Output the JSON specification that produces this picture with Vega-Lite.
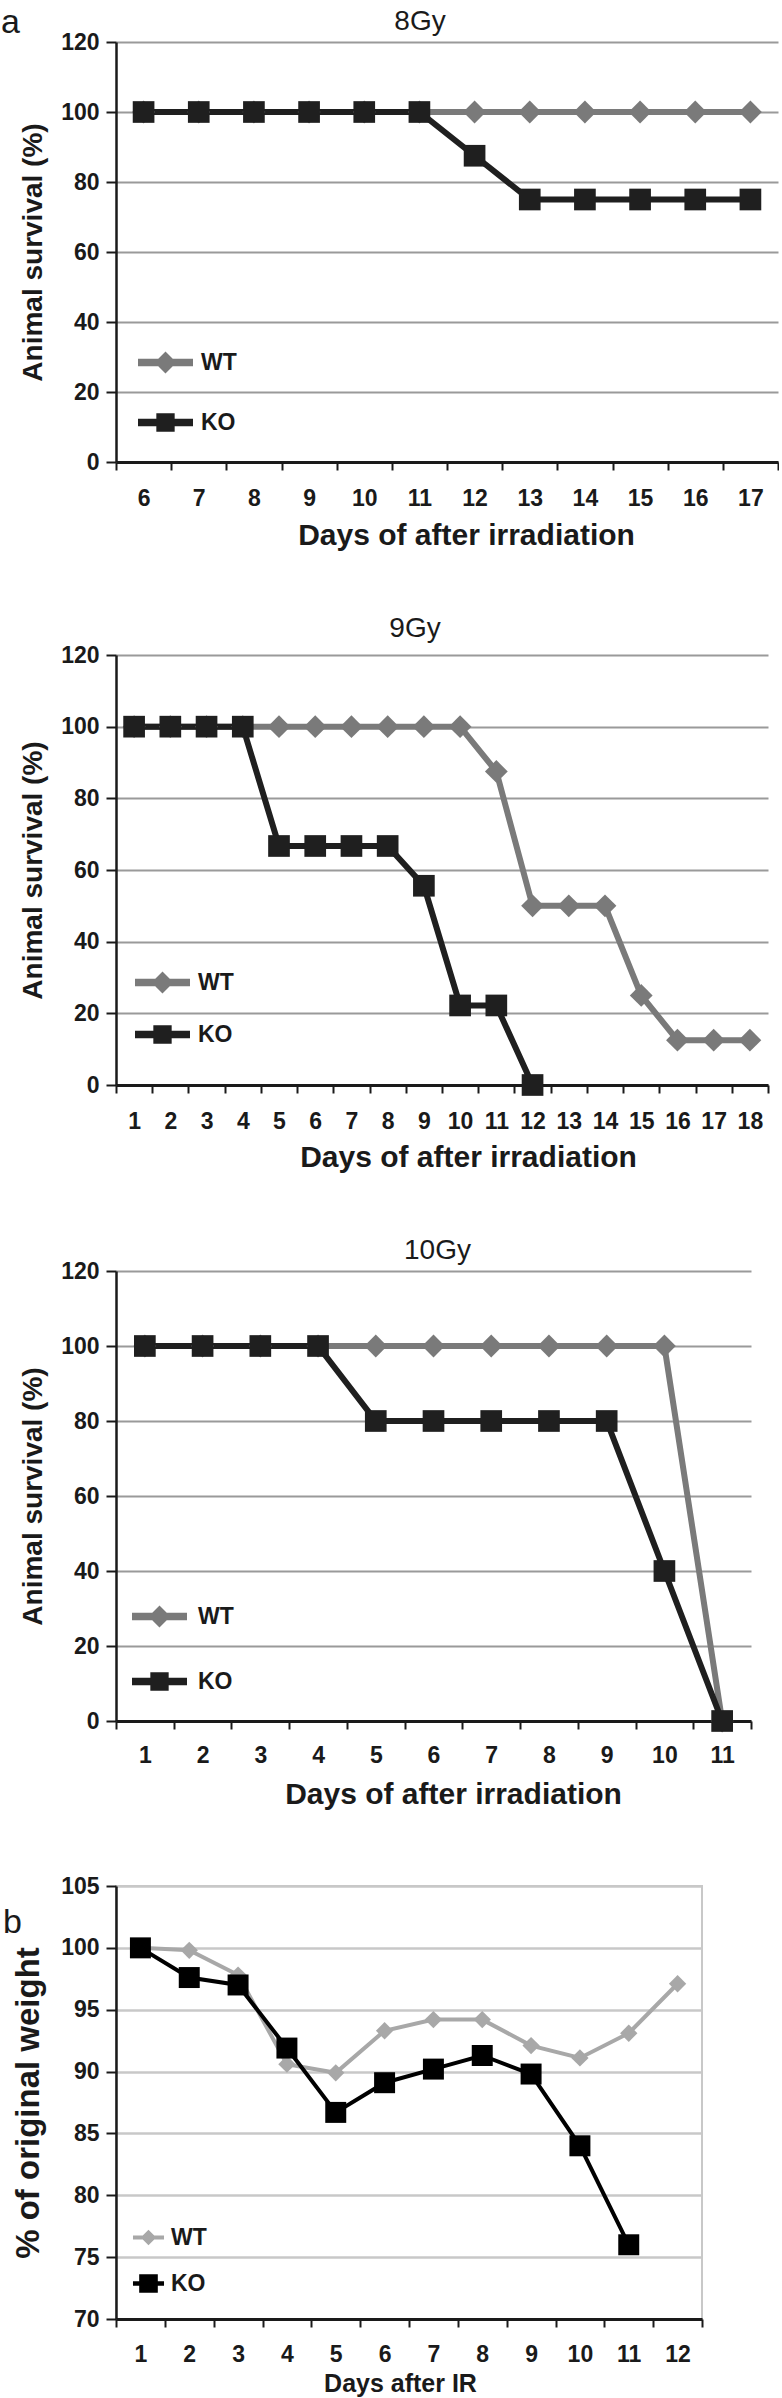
{
  "$schema": "https://vega.github.io/schema/vega-lite/v6.json",
  "background": "white",
  "padding": {"left": 1, "top": 6, "right": 0, "bottom": 0},
  "title": {"text": "a", "anchor": "start", "frame": "group", "fontSize": 34, "fontWeight": "normal", "offset": -32, "dx": -115},
  "spacing": 65,
  "resolve": {"scale": {"color": "independent", "shape": "independent", "x": "independent", "y": "independent"}, "legend": {"color": "independent", "shape": "independent"}},
  "config": {
    "view": {"stroke": null},
    "font": "Liberation Sans",
    "axis": {"labelFont": "Liberation Sans", "labelFontWeight": "bold", "labelFontSize": 23, "labelColor": "#1a1a1a", "titleFont": "Liberation Sans", "titleFontWeight": "bold", "titleColor": "#1a1a1a", "domainColor": "#1a1a1a", "tickColor": "#1a1a1a"},
    "title": {"font": "Liberation Sans", "fontWeight": "normal", "fontSize": 28, "color": "#1a1a1a"},
    "legend": {"padding": 0, "labelFont": "Liberation Sans", "labelFontWeight": "bold", "labelFontSize": 23, "labelColor": "#1a1a1a", "symbolStrokeWidth": 0, "symbolOpacity": 1}
  },
  "datasets": {
    "s8": [
      {"day": 6, "group": "WT", "value": 100}, {"day": 7, "group": "WT", "value": 100}, {"day": 8, "group": "WT", "value": 100}, {"day": 9, "group": "WT", "value": 100}, {"day": 10, "group": "WT", "value": 100}, {"day": 11, "group": "WT", "value": 100}, {"day": 12, "group": "WT", "value": 100}, {"day": 13, "group": "WT", "value": 100}, {"day": 14, "group": "WT", "value": 100}, {"day": 15, "group": "WT", "value": 100}, {"day": 16, "group": "WT", "value": 100}, {"day": 17, "group": "WT", "value": 100},
      {"day": 6, "group": "KO", "value": 100}, {"day": 7, "group": "KO", "value": 100}, {"day": 8, "group": "KO", "value": 100}, {"day": 9, "group": "KO", "value": 100}, {"day": 10, "group": "KO", "value": 100}, {"day": 11, "group": "KO", "value": 100}, {"day": 12, "group": "KO", "value": 87.5}, {"day": 13, "group": "KO", "value": 75}, {"day": 14, "group": "KO", "value": 75}, {"day": 15, "group": "KO", "value": 75}, {"day": 16, "group": "KO", "value": 75}, {"day": 17, "group": "KO", "value": 75}
    ],
    "s9": [
      {"day": 1, "group": "WT", "value": 100}, {"day": 2, "group": "WT", "value": 100}, {"day": 3, "group": "WT", "value": 100}, {"day": 4, "group": "WT", "value": 100}, {"day": 5, "group": "WT", "value": 100}, {"day": 6, "group": "WT", "value": 100}, {"day": 7, "group": "WT", "value": 100}, {"day": 8, "group": "WT", "value": 100}, {"day": 9, "group": "WT", "value": 100}, {"day": 10, "group": "WT", "value": 100}, {"day": 11, "group": "WT", "value": 87.5}, {"day": 12, "group": "WT", "value": 50}, {"day": 13, "group": "WT", "value": 50}, {"day": 14, "group": "WT", "value": 50}, {"day": 15, "group": "WT", "value": 25}, {"day": 16, "group": "WT", "value": 12.5}, {"day": 17, "group": "WT", "value": 12.5}, {"day": 18, "group": "WT", "value": 12.5},
      {"day": 1, "group": "KO", "value": 100}, {"day": 2, "group": "KO", "value": 100}, {"day": 3, "group": "KO", "value": 100}, {"day": 4, "group": "KO", "value": 100}, {"day": 5, "group": "KO", "value": 66.7}, {"day": 6, "group": "KO", "value": 66.7}, {"day": 7, "group": "KO", "value": 66.7}, {"day": 8, "group": "KO", "value": 66.7}, {"day": 9, "group": "KO", "value": 55.6}, {"day": 10, "group": "KO", "value": 22.2}, {"day": 11, "group": "KO", "value": 22.2}, {"day": 12, "group": "KO", "value": 0}
    ],
    "s10": [
      {"day": 1, "group": "WT", "value": 100}, {"day": 2, "group": "WT", "value": 100}, {"day": 3, "group": "WT", "value": 100}, {"day": 4, "group": "WT", "value": 100}, {"day": 5, "group": "WT", "value": 100}, {"day": 6, "group": "WT", "value": 100}, {"day": 7, "group": "WT", "value": 100}, {"day": 8, "group": "WT", "value": 100}, {"day": 9, "group": "WT", "value": 100}, {"day": 10, "group": "WT", "value": 100}, {"day": 11, "group": "WT", "value": 0},
      {"day": 1, "group": "KO", "value": 100}, {"day": 2, "group": "KO", "value": 100}, {"day": 3, "group": "KO", "value": 100}, {"day": 4, "group": "KO", "value": 100}, {"day": 5, "group": "KO", "value": 80}, {"day": 6, "group": "KO", "value": 80}, {"day": 7, "group": "KO", "value": 80}, {"day": 8, "group": "KO", "value": 80}, {"day": 9, "group": "KO", "value": 80}, {"day": 10, "group": "KO", "value": 40}, {"day": 11, "group": "KO", "value": 0}
    ],
    "weight": [
      {"day": 1, "group": "WT", "value": 100}, {"day": 2, "group": "WT", "value": 99.8}, {"day": 3, "group": "WT", "value": 97.8}, {"day": 4, "group": "WT", "value": 90.6}, {"day": 5, "group": "WT", "value": 89.9}, {"day": 6, "group": "WT", "value": 93.3}, {"day": 7, "group": "WT", "value": 94.2}, {"day": 8, "group": "WT", "value": 94.2}, {"day": 9, "group": "WT", "value": 92.1}, {"day": 10, "group": "WT", "value": 91.1}, {"day": 11, "group": "WT", "value": 93.1}, {"day": 12, "group": "WT", "value": 97.1},
      {"day": 1, "group": "KO", "value": 100}, {"day": 2, "group": "KO", "value": 97.6}, {"day": 3, "group": "KO", "value": 97.0}, {"day": 4, "group": "KO", "value": 91.9}, {"day": 5, "group": "KO", "value": 86.7}, {"day": 6, "group": "KO", "value": 89.1}, {"day": 7, "group": "KO", "value": 90.2}, {"day": 8, "group": "KO", "value": 91.3}, {"day": 9, "group": "KO", "value": 89.8}, {"day": 10, "group": "KO", "value": 84.0}, {"day": 11, "group": "KO", "value": 76.0}
    ]
  },
  "vconcat": [
    {
      "width": 662, "height": 420,
      "title": {"text": "8Gy", "dx": -27, "offset": -5},
      "data": {"name": "s8"},
      "encoding": {
        "x": {"field": "day", "type": "ordinal", "scale": {"type": "band", "paddingInner": 0, "paddingOuter": 0}, "axis": {"title": "Days of after irradiation", "titleX": 350, "tickBand": "extent", "labelAngle": 0, "domainWidth": 3, "tickWidth": 2, "tickSize": 8, "labelPadding": 17, "titleFontSize": 30, "titlePadding": 10, "grid": false}},
        "y": {"field": "value", "type": "quantitative", "scale": {"domain": [0, 120], "nice": false}, "axis": {"title": "Animal survival (%)", "values": [0, 20, 40, 60, 80, 100, 120], "grid": true, "gridColor": "#9a9a9a", "gridWidth": 2, "domainWidth": 2.5, "tickWidth": 2, "tickSize": 10, "labelPadding": 7, "titleFontSize": 28, "titlePadding": 13}},
        "color": {"field": "group", "type": "nominal", "scale": {"domain": ["WT", "KO"], "range": ["#7a7a7a", "#1f1f1f"]},
          "legend": {"orient": "none", "legendX": 31, "legendY": 302, "title": null, "symbolSize": 1344, "rowPadding": 29, "labelOffset": 17, "symbolOpacity": 1}}
      },
      "layer": [
        {"mark": {"type": "line", "strokeWidth": 6}},
        {"transform": [{"filter": "datum.group === 'WT'"}], "mark": {"type": "point", "filled": true, "opacity": 1, "size": 520, "shape": "diamond"}},
        {"transform": [{"filter": "datum.group === 'KO'"}], "mark": {"type": "point", "filled": true, "opacity": 1, "size": 470, "shape": "square"}},
        {"mark": {"type": "point", "filled": true, "opacity": 0, "size": 1}, "encoding": {"shape": {"field": "group", "type": "nominal", "scale": {"domain": ["WT", "KO"], "range": ["M-1.5,-0.2H1.5V0.2H-1.5Z M0,-0.6L0.6,0L0,0.6L-0.6,0Z", "M-1.5,-0.2H1.5V0.2H-1.5Z M-0.5,-0.5H0.5V0.5H-0.5Z"]},
          "legend": {"orient": "none", "legendX": 31, "legendY": 302, "title": null, "symbolSize": 1344, "rowPadding": 29, "labelOffset": 17, "symbolOpacity": 1}}}}
      ]
    },
    {
      "width": 652, "height": 430,
      "title": {"text": "9Gy", "dx": -27, "offset": 1},
      "data": {"name": "s9"},
      "encoding": {
        "x": {"field": "day", "type": "ordinal", "scale": {"type": "band", "paddingInner": 0, "paddingOuter": 0}, "axis": {"title": "Days of after irradiation", "titleX": 352, "tickBand": "extent", "labelAngle": 0, "domainWidth": 3, "tickWidth": 2, "tickSize": 8, "labelPadding": 17, "titleFontSize": 30, "titlePadding": 9, "grid": false}},
        "y": {"field": "value", "type": "quantitative", "scale": {"domain": [0, 120], "nice": false}, "axis": {"title": "Animal survival (%)", "values": [0, 20, 40, 60, 80, 100, 120], "grid": true, "gridColor": "#9a9a9a", "gridWidth": 2, "domainWidth": 2.5, "tickWidth": 2, "tickSize": 10, "labelPadding": 7, "titleFontSize": 28, "titlePadding": 13}},
        "color": {"field": "group", "type": "nominal", "scale": {"domain": ["WT", "KO"], "range": ["#7a7a7a", "#1f1f1f"]},
          "legend": {"orient": "none", "legendX": 28, "legendY": 309, "title": null, "symbolSize": 1344, "rowPadding": 21, "labelOffset": 17, "symbolOpacity": 1}}
      },
      "layer": [
        {"mark": {"type": "line", "strokeWidth": 6}},
        {"transform": [{"filter": "datum.group === 'WT'"}], "mark": {"type": "point", "filled": true, "opacity": 1, "size": 520, "shape": "diamond"}},
        {"transform": [{"filter": "datum.group === 'KO'"}], "mark": {"type": "point", "filled": true, "opacity": 1, "size": 470, "shape": "square"}},
        {"mark": {"type": "point", "filled": true, "opacity": 0, "size": 1}, "encoding": {"shape": {"field": "group", "type": "nominal", "scale": {"domain": ["WT", "KO"], "range": ["M-1.5,-0.2H1.5V0.2H-1.5Z M0,-0.6L0.6,0L0,0.6L-0.6,0Z", "M-1.5,-0.2H1.5V0.2H-1.5Z M-0.5,-0.5H0.5V0.5H-0.5Z"]},
          "legend": {"orient": "none", "legendX": 28, "legendY": 309, "title": null, "symbolSize": 1344, "rowPadding": 21, "labelOffset": 17, "symbolOpacity": 1}}}}
      ]
    },
    {
      "width": 635, "height": 450,
      "title": {"text": "10Gy", "dx": 4, "offset": -5},
      "data": {"name": "s10"},
      "encoding": {
        "x": {"field": "day", "type": "ordinal", "scale": {"type": "band", "paddingInner": 0, "paddingOuter": 0}, "axis": {"title": "Days of after irradiation", "titleX": 337, "tickBand": "extent", "labelAngle": 0, "domainWidth": 3, "tickWidth": 2, "tickSize": 8, "labelPadding": 15, "titleFontSize": 30, "titlePadding": 12, "grid": false}},
        "y": {"field": "value", "type": "quantitative", "scale": {"domain": [0, 120], "nice": false}, "axis": {"title": "Animal survival (%)", "values": [0, 20, 40, 60, 80, 100, 120], "grid": true, "gridColor": "#9a9a9a", "gridWidth": 2, "domainWidth": 2.5, "tickWidth": 2, "tickSize": 10, "labelPadding": 7, "titleFontSize": 28, "titlePadding": 13}},
        "color": {"field": "group", "type": "nominal", "scale": {"domain": ["WT", "KO"], "range": ["#7a7a7a", "#1f1f1f"]},
          "legend": {"orient": "none", "legendX": 25, "legendY": 327, "title": null, "symbolSize": 1344, "rowPadding": 34, "labelOffset": 20, "symbolOpacity": 1}}
      },
      "layer": [
        {"mark": {"type": "line", "strokeWidth": 6}},
        {"transform": [{"filter": "datum.group === 'WT'"}], "mark": {"type": "point", "filled": true, "opacity": 1, "size": 520, "shape": "diamond"}},
        {"transform": [{"filter": "datum.group === 'KO'"}], "mark": {"type": "point", "filled": true, "opacity": 1, "size": 470, "shape": "square"}},
        {"mark": {"type": "point", "filled": true, "opacity": 0, "size": 1}, "encoding": {"shape": {"field": "group", "type": "nominal", "scale": {"domain": ["WT", "KO"], "range": ["M-1.5,-0.2H1.5V0.2H-1.5Z M0,-0.6L0.6,0L0,0.6L-0.6,0Z", "M-1.5,-0.2H1.5V0.2H-1.5Z M-0.5,-0.5H0.5V0.5H-0.5Z"]},
          "legend": {"orient": "none", "legendX": 25, "legendY": 327, "title": null, "symbolSize": 1344, "rowPadding": 34, "labelOffset": 20, "symbolOpacity": 1}}}}
      ]
    },
    {
      "width": 586, "height": 433,
      "title": {"text": ["", "b"], "anchor": "start", "frame": "group", "fontSize": 34, "lineHeight": 29, "offset": -65, "dx": -113},
      "view": {"stroke": "#c8c8c8", "strokeWidth": 2},
      "data": {"name": "weight"},
      "encoding": {
        "x": {"field": "day", "type": "ordinal", "scale": {"type": "band", "paddingInner": 0, "paddingOuter": 0}, "axis": {"title": "Days after IR", "titleX": 284, "tickBand": "extent", "labelAngle": 0, "domainWidth": 3, "tickWidth": 2, "tickSize": 8, "labelPadding": 16, "titleFontSize": 25, "titlePadding": 5, "grid": false}},
        "y": {"field": "value", "type": "quantitative", "scale": {"domain": [70, 105], "nice": false, "zero": false}, "axis": {"title": "% of original weight", "values": [70, 75, 80, 85, 90, 95, 100, 105], "grid": true, "gridColor": "#c8c8c8", "gridWidth": 2.5, "domainWidth": 2.5, "tickWidth": 2, "tickSize": 10, "labelPadding": 7, "titleFontSize": 33, "titlePadding": 15}},
        "color": {"field": "group", "type": "nominal", "scale": {"domain": ["WT", "KO"], "range": ["#a8a8a8", "#000000"]},
          "legend": {"orient": "none", "legendX": 21, "legendY": 340, "title": null, "symbolSize": 428, "rowPadding": 22, "labelOffset": 11, "symbolOpacity": 1}}
      },
      "layer": [
        {"mark": {"type": "line", "strokeWidth": 4}},
        {"transform": [{"filter": "datum.group === 'WT'"}], "mark": {"type": "point", "filled": true, "opacity": 1, "size": 300, "shape": "diamond"}},
        {"transform": [{"filter": "datum.group === 'KO'"}], "mark": {"type": "point", "filled": true, "opacity": 1, "size": 440, "shape": "square"}},
        {"mark": {"type": "point", "filled": true, "opacity": 0, "size": 1}, "encoding": {"shape": {"field": "group", "type": "nominal", "scale": {"domain": ["WT", "KO"], "range": ["M-1.5,-0.2H1.5V0.2H-1.5Z M0,-0.75L0.75,0L0,0.75L-0.75,0Z", "M-1.5,-0.22H1.5V0.22H-1.5Z M-0.9,-0.9H0.9V0.9H-0.9Z"]},
          "legend": {"orient": "none", "legendX": 21, "legendY": 340, "title": null, "symbolSize": 428, "rowPadding": 22, "labelOffset": 11, "symbolOpacity": 1}}}}
      ]
    }
  ]
}
